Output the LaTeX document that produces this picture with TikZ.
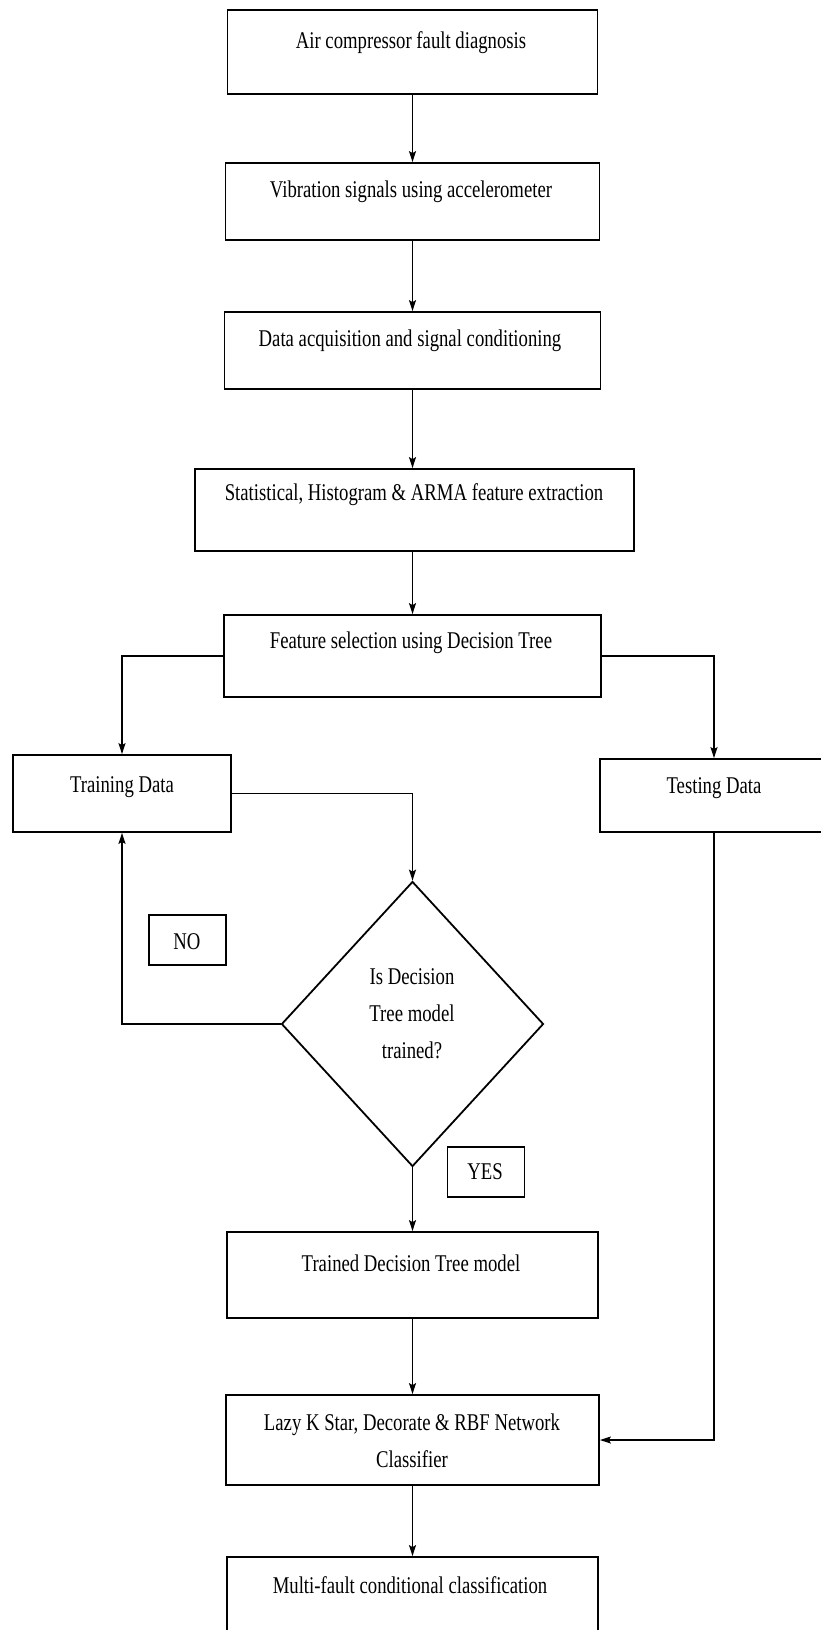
\documentclass[tikz,border=0pt]{standalone}
\usepackage{fontspec}
\setmainfont[FakeStretch=0.78]{Liberation Serif}
\usetikzlibrary{shapes.geometric,arrows.meta}
\begin{document}
\begin{tikzpicture}[x=1pt,y=-1pt,
  box/.style={draw,line width=1.8pt,inner sep=0pt},
  tag/.style={draw,line width=1.6pt,inner sep=0pt,minimum width=77pt,minimum height=50pt},
  lbl/.style={font=\fontsize{24}{37}\selectfont,align=center,inner sep=0pt},
  conn/.style={line width=1.3pt,-{Stealth[length=11pt,width=7pt,inset=2pt]}}]
\path[use as bounding box,fill=white] (0,0) rectangle (820,1630);
% main column
\node[box,minimum width=370pt,minimum height=84pt] (b1) at (412.5,52) {};
\node[lbl] (t1) at (411,43) {Air compressor fault diagnosis};
\node[box,minimum width=374pt,minimum height=77pt] (b2) at (412.5,201.5) {};
\node[lbl] (t2) at (411,192) {Vibration signals using accelerometer};
\node[box,minimum width=376pt,minimum height=77pt] (b3) at (412.5,350.5) {};
\node[lbl] (t3) at (410,341) {Data acquisition and signal conditioning};
\node[box,minimum width=439pt,minimum height=82pt] (b4) at (414.5,510) {};
\node[lbl] (t4) at (414,495) {Statistical, Histogram \& ARMA feature extraction};
\node[box,minimum width=377pt,minimum height=82pt] (b5) at (412.5,656) {};
\node[lbl] (t5) at (411,643) {Feature selection using Decision Tree};
% branches
\node[box,minimum width=218pt,minimum height=77pt] (train) at (122,793.5) {};
\node[lbl] (t6) at (122,787) {Training Data};
\node[box,minimum width=222pt,minimum height=73pt] (test) at (711,795.5) {};
\node[lbl] (t7) at (714,788) {Testing Data};
\coordinate (tx) at (714,0);
% decision
\node[draw,shape=diamond,line width=1.8pt,inner sep=0pt,minimum width=262pt,minimum height=285pt] (dia) at (412.5,1024) {};
\node[lbl] (t8) at (412,1014) {Is Decision\\Tree model\\trained?};
\node[tag] (no) at (187.5,940) {};
\node[lbl] (t9) at (187,942) {NO};
\node[tag] (yes) at (486,1172) {};
\node[lbl] (t10) at (485,1172) {YES};
% lower column
\node[box,minimum width=371pt,minimum height=86pt] (trained) at (412.5,1275) {};
\node[lbl] (t11) at (411,1263) {Trained Decision Tree model};
\node[box,minimum width=373pt,minimum height=90pt] (lazy) at (412.5,1440) {};
\node[lbl] (t12) at (412,1441) {Lazy K Star, Decorate \& RBF Network\\Classifier};
\node[box,minimum width=371pt,minimum height=93pt] (multi) at (412.5,1603.5) {};
\node[lbl] (t13) at (410,1585) {Multi-fault conditional classification};
% connectors
\draw[conn] (b1.south) -- (b2.north);
\draw[conn] (b2.south) -- (b3.north);
\draw[conn] (b3.south) -- (b4.north -| b3.south);
\draw[conn] (b4.south -| b3.south) -- (b5.north);
\draw[conn] (b5.west) -| (train.north);
\draw[conn] (b5.east) -| (tx |- test.north);
\draw[conn] (train.east) -| (dia.north);
\draw[conn] (dia.west) -| (train.south);
\draw[conn] (dia.south) -- (trained.north);
\draw[conn] (trained.south) -- (lazy.north);
\draw[conn] (lazy.south) -- (multi.north);
\draw[conn] (tx |- test.south) |- (lazy.east);
\end{tikzpicture}
\end{document}
